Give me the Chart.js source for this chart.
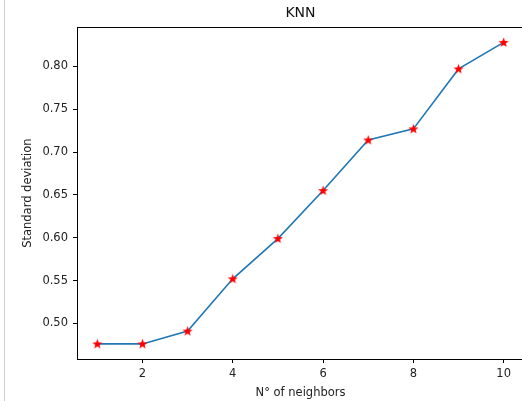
<!DOCTYPE html>
<html>
<head>
<meta charset="utf-8">
<script src="https://cdn.jsdelivr.net/npm/chart.js@4.4.1/dist/chart.umd.min.js"></script>
<style>
  body { margin: 0; background: #fff; overflow: hidden; }
  #wrap { position: relative; width: 522px; height: 401px; overflow: hidden; }
  #edge { position: absolute; left: 4px; top: 0; width: 1px; height: 401px; background: #cfcfcf; }
  #mask { position: absolute; left: 517px; top: 29px; width: 6px; height: 329px; background: #fff; z-index: 2; }
  canvas { position: absolute; left: 0; top: 0; }
</style>
</head>
<body>
<div id="wrap">
  <div id="edge"></div>
  <canvas id="knnChart" width="540" height="401"></canvas>
  <div id="mask"></div>
</div>
<script>
// données
const neighbors = [1, 2, 3, 4, 5, 6, 7, 8, 9, 10];
const stdDev = [0.476, 0.476, 0.491, 0.552, 0.599, 0.655, 0.714, 0.727, 0.797, 0.828];
const xTicks = [2, 4, 6, 8, 10];
const yTicks = [0.50, 0.55, 0.60, 0.65, 0.70, 0.75, 0.80];

// marges façon matplotlib (5 %)
function withMargin(arr) 
{
    const lo = Math.min(...arr), hi = Math.max(...arr);
    const m = (hi - lo) * 0.05;
    return [lo - m, hi + m];
}
const [xMin, xMax] = withMargin(neighbors);
const [yMin, yMax] = withMargin(stdDev);

// étoile pleine rouge pour les points
function makeStar() 
{
    const c = document.createElement('canvas');
    c.width = 11; c.height = 11;
    const g = c.getContext('2d');
    g.beginPath();
    for (let i = 0; i < 10; i++) 
    {
        const r = i % 2 === 0 ? 5.3 : 2.2;
        const a = -Math.PI / 2 + i * Math.PI / 5;
        const px = 5.5 + r * Math.cos(a), py = 5.8 + r * Math.sin(a);
        if (i === 0) g.moveTo(px, py); else g.lineTo(px, py);
    }
    g.closePath();
    g.fillStyle = '#ff0000';
    g.fill();
    return c;
}

// ligne du haut (le bord droit sort de la fenêtre)
const frame = {
    id: 'frame',
    afterDraw(chart) 
    {
        const a = chart.chartArea, ctx = chart.ctx;
        ctx.save();
        ctx.strokeStyle = '#000';
        ctx.lineWidth = 1;
        ctx.beginPath();
        ctx.moveTo(a.left, Math.round(a.top) + 0.5);
        ctx.lineTo(a.right, Math.round(a.top) + 0.5);
        ctx.stroke();
        ctx.restore();
    }
};

const font = { family: 'DejaVu Sans', size: 11.5 };

new Chart(document.getElementById('knnChart'), {
    type: 'line',
    data: {
        datasets: [{
            data: neighbors.map((n, i) => ({ x: n, y: stdDev[i] })),
            borderColor: '#1f77b4',
            borderWidth: 1.6,
            tension: 0,
            fill: false,
            pointStyle: makeStar(),
            pointRadius: 5
        }]
    },
    options: {
        responsive: false,
        animation: false,
        layout: { padding: { left: 0, right: 16, top: 0, bottom: 0 } },
        plugins: {
            legend: { display: false },
            tooltip: { enabled: false },
            title: {
                display: true,
                text: 'KNN',
                fullSize: false,
                color: '#111',
                font: { family: 'DejaVu Sans', size: 14, weight: 'normal' },
                padding: { top: 5, bottom: 5.5 }
            }
        },
        scales: {
            x: {
                type: 'linear',
                min: xMin,
                max: xMax,
                afterBuildTicks: s => { s.ticks = xTicks.map(v => ({ value: v })); },
                afterFit: s => { s.height = 42; },
                grid: { drawOnChartArea: false, tickLength: 4, tickColor: '#000' },
                border: { color: '#000' },
                ticks: { color: '#222', font: font, padding: 4, maxRotation: 0, callback: v => String(v) },
                title: { display: true, text: 'N° of neighbors', color: '#222', font: font, padding: { top: 0, bottom: 1 } }
            },
            y: {
                min: yMin,
                max: yMax,
                afterBuildTicks: s => { s.ticks = yTicks.map(v => ({ value: v })); },
                afterFit: s => { s.width = 77; },
                grid: { drawOnChartArea: false, tickLength: 4, tickColor: '#000' },
                border: { color: '#000' },
                ticks: { color: '#222', font: font, padding: 5, callback: v => v.toFixed(2) },
                title: { display: true, text: 'Standard deviation', color: '#222', font: font, padding: { top: 21, bottom: 0 } }
            }
        }
    },
    plugins: [frame]
});
</script>
</body>
</html>
